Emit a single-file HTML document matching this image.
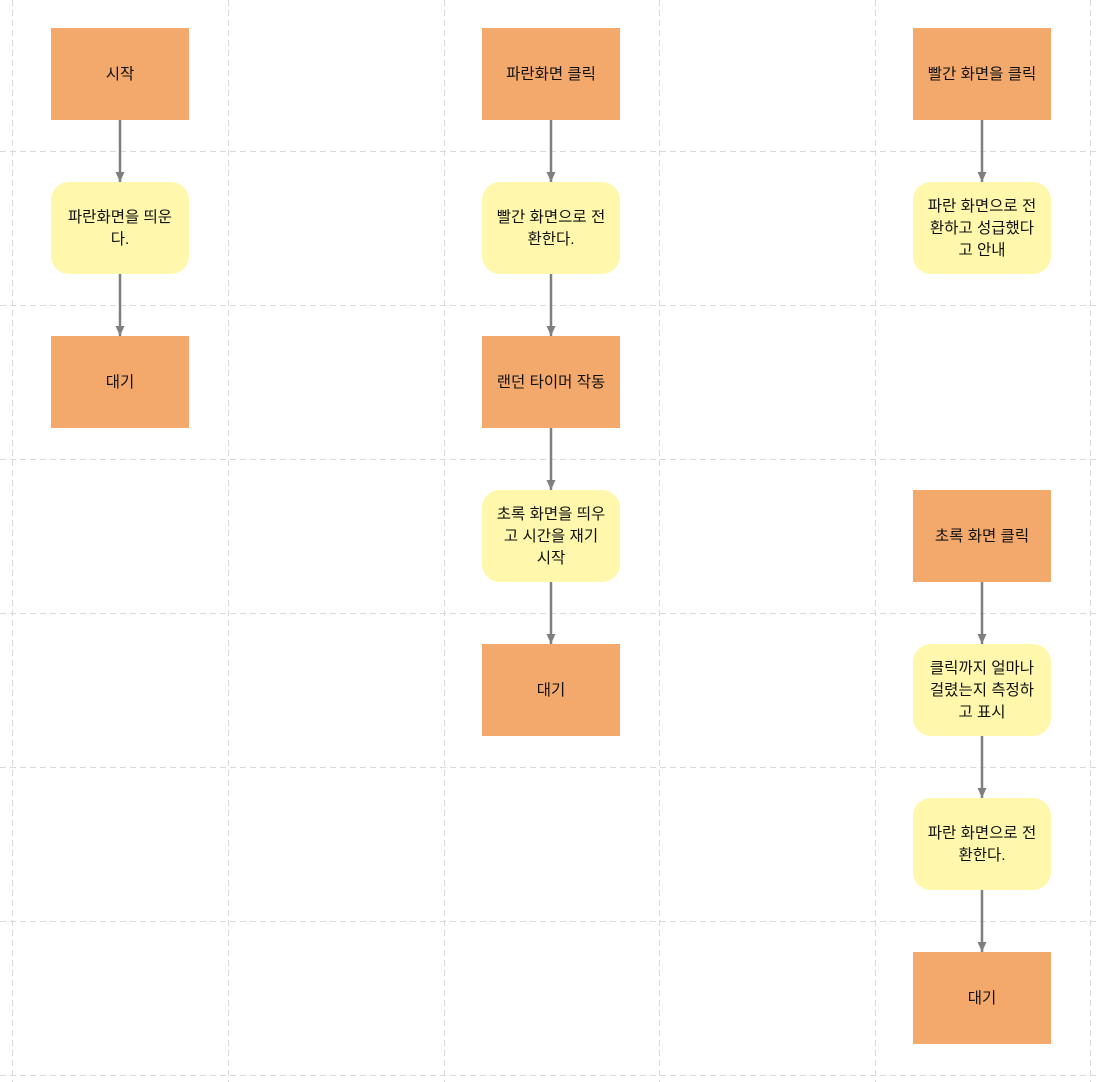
<!DOCTYPE html>
<html><head><meta charset="utf-8"><style>
html,body{margin:0;padding:0;background:#fff;}
svg{display:block}
text{font-family:"Liberation Sans","Noto Sans CJK KR",sans-serif;font-size:15.5px;fill:#111;text-anchor:middle;}
</style></head><body>
<svg width="1096" height="1082" viewBox="0 0 1096 1082" xmlns="http://www.w3.org/2000/svg">
<defs><marker id="a" markerWidth="12" markerHeight="12" refX="10" refY="5.5" orient="auto" markerUnits="userSpaceOnUse"><path d="M0,1 L10,5.5 L0,10 Z" fill="#7f7f7f"/></marker></defs>
<g stroke="#d9d9d9" stroke-width="1" stroke-dasharray="6,4" fill="none">
<line x1="12.5" y1="0" x2="12.5" y2="1082"/><line x1="228.5" y1="0" x2="228.5" y2="1082"/><line x1="444.5" y1="0" x2="444.5" y2="1082"/><line x1="659.5" y1="0" x2="659.5" y2="1082"/><line x1="875.5" y1="0" x2="875.5" y2="1082"/><line x1="1090.5" y1="0" x2="1090.5" y2="1082"/>
<line x1="0" y1="151.5" x2="1096" y2="151.5"/><line x1="0" y1="305.5" x2="1096" y2="305.5"/><line x1="0" y1="459.5" x2="1096" y2="459.5"/><line x1="0" y1="613.5" x2="1096" y2="613.5"/><line x1="0" y1="767.5" x2="1096" y2="767.5"/><line x1="0" y1="921.5" x2="1096" y2="921.5"/><line x1="0" y1="1075.5" x2="1096" y2="1075.5"/>
</g>
<g fill="#f3a96b">
<rect x="51" y="28" width="138" height="92"/><rect x="51" y="336" width="138" height="92"/>
<rect x="482" y="28" width="138" height="92"/><rect x="482" y="336" width="138" height="92"/><rect x="482" y="644" width="138" height="92"/>
<rect x="913" y="28" width="138" height="92"/><rect x="913" y="490" width="138" height="92"/><rect x="913" y="952" width="138" height="92"/>
</g>
<g fill="#fff7ab">
<rect x="51" y="182" width="138" height="92" rx="18"/>
<rect x="482" y="182" width="138" height="92" rx="18"/><rect x="482" y="490" width="138" height="92" rx="18"/>
<rect x="913" y="182" width="138" height="92" rx="18"/><rect x="913" y="644" width="138" height="92" rx="18"/><rect x="913" y="798" width="138" height="92" rx="18"/>
</g>
<g stroke="#7f7f7f" stroke-width="2.5" marker-end="url(#a)">
<line x1="120" y1="120" x2="120" y2="182"/><line x1="120" y1="274" x2="120" y2="336"/>
<line x1="551" y1="120" x2="551" y2="182"/><line x1="551" y1="274" x2="551" y2="336"/><line x1="551" y1="428" x2="551" y2="490"/><line x1="551" y1="582" x2="551" y2="644"/>
<line x1="982" y1="120" x2="982" y2="182"/><line x1="982" y1="582" x2="982" y2="644"/><line x1="982" y1="736" x2="982" y2="798"/><line x1="982" y1="890" x2="982" y2="952"/>
</g>
<text x="120" y="79">시작</text>
<text x="120" y="222">파란화면을 띄운</text><text x="120" y="244">다.</text>
<text x="120" y="387">대기</text>
<text x="551" y="79">파란화면 클릭</text>
<text x="551" y="222">빨간 화면으로 전</text><text x="551" y="244">환한다.</text>
<text x="551" y="387">랜던 타이머 작동</text>
<text x="551" y="519">초록 화면을 띄우</text><text x="551" y="541">고 시간을 재기</text><text x="551" y="563">시작</text>
<text x="551" y="695">대기</text>
<text x="982" y="79">빨간 화면을 클릭</text>
<text x="982" y="211">파란 화면으로 전</text><text x="982" y="233">환하고 성급했다</text><text x="982" y="255">고 안내</text>
<text x="982" y="541">초록 화면 클릭</text>
<text x="982" y="673">클릭까지 얼마나</text><text x="982" y="695">걸렸는지 측정하</text><text x="982" y="717">고 표시</text>
<text x="982" y="838">파란 화면으로 전</text><text x="982" y="860">환한다.</text>
<text x="982" y="1003">대기</text>
</svg>
</body></html>
